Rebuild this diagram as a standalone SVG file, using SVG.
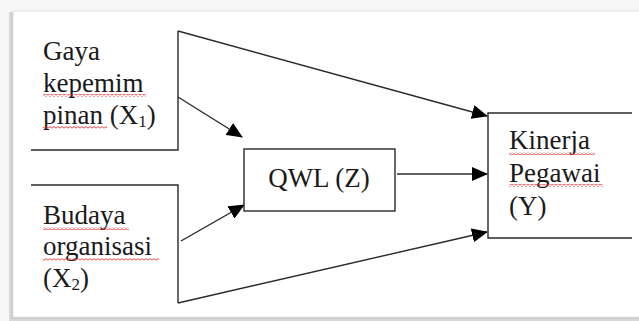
<svg xmlns="http://www.w3.org/2000/svg" width="639" height="321" viewBox="0 0 639 321">
  <defs>
    <style>
      .t { font-family: "Liberation Serif", "Times New Roman", serif; font-size: 27px; fill: #1a1a1a; }
      .ln { fill: none; stroke: #2a2a2a; stroke-width: 1.4; }
      .ar { fill: none; stroke: #2a2a2a; stroke-width: 1.4; marker-end: url(#ah); }
    </style>
    <marker id="ah" markerUnits="userSpaceOnUse" markerWidth="16" markerHeight="14" refX="15" refY="7" orient="auto">
      <path d="M0 0 L16 7 L0 14 Z" fill="#000"/>
    </marker>
    <pattern id="sq" patternUnits="userSpaceOnUse" width="4" height="3">
      <path d="M0 2.2 L2 0.6 L4 2.2" fill="none" stroke="#e03030" stroke-width="0.9"/>
    </pattern>
  </defs>

  <!-- page background and frame -->
  <rect x="0" y="0" width="639" height="321" fill="#f7f7f7"/>
  <rect x="9" y="12" width="640" height="309" fill="#d8d8d8"/>
  <rect x="11" y="12" width="640" height="307" fill="#c9c9c9"/>
  <rect x="13" y="11" width="640" height="306" fill="#ffffff" stroke="#e2e2e2" stroke-width="1"/>

  <!-- connectors -->
  <g id="connectors">
    <polyline class="ln" points="31,150 178,150 178,31"/>
    <polyline class="ln" points="31,185 178,185 178,303"/>
    <line class="ar" x1="178" y1="31" x2="487" y2="116"/>
    <line class="ar" x1="178" y1="97" x2="242" y2="137"/>
    <line class="ar" x1="181" y1="241" x2="244" y2="205"/>
    <line class="ar" x1="397" y1="174" x2="487" y2="174"/>
    <line class="ar" x1="178" y1="303" x2="487" y2="232"/>
  </g>

  <!-- X1 -->
  <g id="x1">
    <text class="t" x="43" y="60">Gaya</text>
    <text class="t" x="43" y="92">kepemim</text>
    <text class="t" x="43" y="124">pinan (X<tspan font-size="17" dy="3">1</tspan><tspan dy="-3">)</tspan></text>
    <rect x="43" y="94" width="103" height="3" fill="url(#sq)"/>
    <rect x="43" y="126" width="64" height="3" fill="url(#sq)"/>
  </g>

  <!-- X2 -->
  <g id="x2">
    <text class="t" x="43" y="224">Budaya</text>
    <text class="t" x="43" y="255">organisasi</text>
    <text class="t" x="43" y="287">(X<tspan font-size="17" dy="3">2</tspan><tspan dy="-3">)</tspan></text>
    <rect x="43" y="227" width="86" height="3" fill="url(#sq)"/>
    <rect x="43" y="258" width="116" height="3" fill="url(#sq)"/>
  </g>

  <!-- Z -->
  <g id="z">
    <rect x="244" y="149" width="151" height="62" fill="#fff" stroke="#2a2a2a" stroke-width="1.4"/>
    <text class="t" x="319" y="187" text-anchor="middle">QWL (Z)</text>
  </g>

  <!-- Y -->
  <g id="y">
    <polyline class="ln" points="632,113 488,113 488,238 632,238"/>
    <text class="t" x="509" y="149">Kinerja</text>
    <text class="t" x="509" y="182">Pegawai</text>
    <text class="t" x="509" y="215">(Y)</text>
    <rect x="509" y="152" width="86" height="3" fill="url(#sq)"/>
    <rect x="509" y="184" width="94" height="3" fill="url(#sq)"/>
  </g>
</svg>
